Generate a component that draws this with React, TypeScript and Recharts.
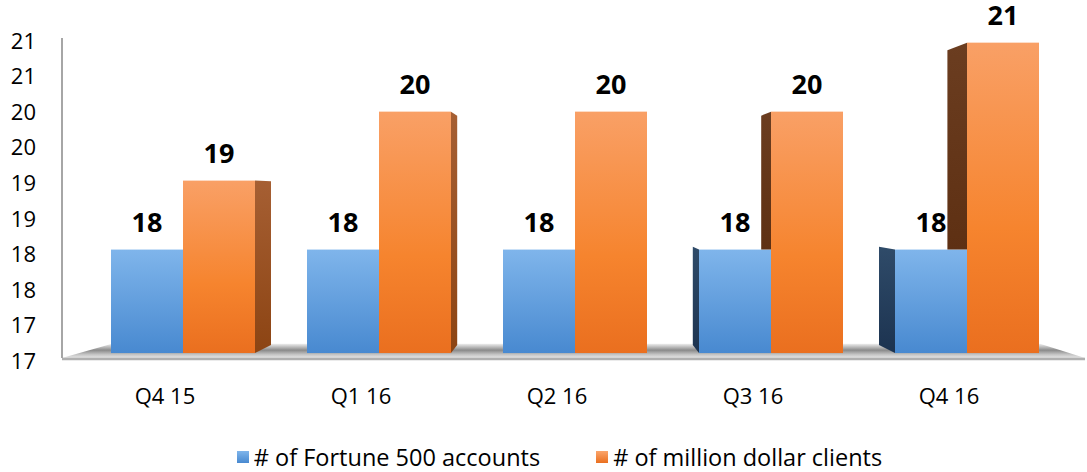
import { BarChart, Bar, XAxis, YAxis, Legend, ReferenceArea, LabelList } from "recharts";

const quarters = ["Q4 15", "Q1 16", "Q2 16", "Q3 16", "Q4 16"];
const fortune500 = [18, 18, 18, 18, 18];
const millionClients = [19, 20, 20, 20, 21];
const yTicks = [16.5, 17, 17.5, 18, 18.5, 19, 19.5, 20, 20.5, 21];

const data = quarters.map((q, i) => ({
  quarter: q,
  fortune: fortune500[i],
  million: millionClients[i],
}));

const FONT = "'Open Sans', sans-serif";
const W = 1087;
const H = 472;
const MARGIN = { top: 38, right: 2, left: 12, bottom: 1 };
const Y_AXIS_W = 50;
const PAD_L = 23;
const PAD_R = 20;
const Y_MIN = 16.5;

// fake perspective: bars sit a little behind the axis plane
const VP_X = (MARGIN.left + Y_AXIS_W + PAD_L + W - MARGIN.right - PAD_R) / 2;
const VP_Y = 193;
const DEPTH = 0.97;
const SIDE = 0.05;

const toDepth = (y: number) => VP_Y + (y - VP_Y) * DEPTH;
const backX = (x: number) => x + (VP_X - x) * SIDE;
const backY = (y: number) => y + (VP_Y - y) * SIDE;

const pts = (p: number[][]) => p.map((a) => a.join(",")).join(" ");

function makeBar(key: "fortune" | "million") {
  return (props: any) => {
    const { x, y, width, height, payload } = props;
    const top = toDepth(y);
    const bottom = toDepth(y + height);
    const xl = x;
    const xr = x + width;
    const faces: any[] = [];

    if (key === "million" && xr < VP_X) {
      faces.push(
        <polygon
          key="r"
          points={pts([[xr, top], [backX(xr), backY(top)], [backX(xr), backY(bottom)], [xr, bottom]])}
          fill="url(#sideMillionR)"
        />
      );
    }
    if (xl > VP_X) {
      let low = bottom;
      if (key === "million") {
        // the blue bar in front hides the lower part
        const unit = height / (payload.million - Y_MIN);
        low = toDepth(y + height - (payload.fortune - Y_MIN) * unit);
      }
      faces.push(
        <polygon
          key="l"
          points={pts([[xl, top], [backX(xl), backY(top)], [backX(xl), key === "million" ? low : backY(low)], [xl, low]])}
          fill={key === "million" ? "url(#sideMillionL)" : "url(#sideFortuneL)"}
        />
      );
    }

    return (
      <g>
        {faces}
        <rect
          x={xl}
          y={top}
          width={width}
          height={bottom - top}
          fill={key === "million" ? "url(#frontMillion)" : "url(#frontFortune)"}
        />
      </g>
    );
  };
}

const renderLabel = (props: any) => {
  const { x, y, width, value } = props;
  return (
    <text
      x={x + width / 2}
      y={toDepth(y) - 18}
      textAnchor="middle"
      fontFamily={FONT}
      fontSize={27}
      fontWeight="bold"
      fill="#000"
    >
      {value}
    </text>
  );
};

const Floor = (props: any) => {
  const { y, height } = props;
  const left = MARGIN.left + Y_AXIS_W;
  const right = W - MARGIN.right;
  const fy = y + height;
  return (
    <g>
      <polygon
        points={pts([[left, fy], [right, fy], [right - 45, y], [left + 50, y]])}
        fill="url(#floorGrad)"
      />
      <line x1={left} y1={fy + 1} x2={right} y2={fy + 1} stroke="#b0b0b0" strokeWidth={2.5} />
    </g>
  );
};

const legendItems = [
  { label: "# of Fortune 500 accounts", color: "linear-gradient(#7fb5eb, #4889d0)" },
  { label: "# of million dollar clients", color: "linear-gradient(#fba56c, #ea6f1f)" },
];

const renderLegend = () => (
  <div
    style={{
      display: "flex",
      justifyContent: "center",
      gap: 56,
      paddingLeft: 22,
      fontFamily: FONT,
      fontSize: 23.5,
      color: "#000",
    }}
  >
    {legendItems.map((it) => (
      <div key={it.label} style={{ display: "flex", alignItems: "center" }}>
        <span style={{ width: 12, height: 12, background: it.color, marginRight: 5, display: "inline-block" }} />
        {it.label}
      </div>
    ))}
  </div>
);

export default function App() {
  return (
    <div style={{ position: "relative", width: W, height: H }}>
      <style>{"body{margin:0}"}</style>
      <svg style={{ position: "absolute", width: 0, height: 0 }}>
        <defs>
          <linearGradient id="frontFortune" x1="0" y1="0" x2="0" y2="1">
            <stop offset="0%" stopColor="#7fb5eb" />
            <stop offset="100%" stopColor="#4889d0" />
          </linearGradient>
          <linearGradient id="frontMillion" x1="0" y1="0" x2="0" y2="1">
            <stop offset="0%" stopColor="#f9a066" />
            <stop offset="60%" stopColor="#f6842e" />
            <stop offset="100%" stopColor="#ea6f1f" />
          </linearGradient>
          <linearGradient id="sideMillionR" x1="0" y1="0" x2="0" y2="1">
            <stop offset="0%" stopColor="#a65f33" />
            <stop offset="100%" stopColor="#8c4413" />
          </linearGradient>
          <linearGradient id="sideMillionL" x1="0" y1="0" x2="0" y2="1">
            <stop offset="0%" stopColor="#6b3d20" />
            <stop offset="100%" stopColor="#5e3013" />
          </linearGradient>
          <linearGradient id="sideFortuneL" x1="0" y1="0" x2="0" y2="1">
            <stop offset="0%" stopColor="#2f4b69" />
            <stop offset="100%" stopColor="#1c3350" />
          </linearGradient>
          <linearGradient id="floorGrad" x1="0" y1="0" x2="0" y2="1">
            <stop offset="0%" stopColor="#eeeeee" />
            <stop offset="45%" stopColor="#8a8a8a" />
            <stop offset="75%" stopColor="#c4c4c4" />
            <stop offset="100%" stopColor="#e6e6e6" />
          </linearGradient>
        </defs>
      </svg>
      <BarChart width={W} height={H} data={data} margin={MARGIN} barGap={0} barSize={72}>
        <XAxis
          dataKey="quarter"
          padding={{ left: PAD_L, right: PAD_R }}
          axisLine={false}
          tickLine={false}
          tickSize={0}
          tickMargin={30}
          height={83}
          tick={{ fontFamily: FONT, fontSize: 22, fill: "#000", dx: -18 }}
        />
        <YAxis
          type="number"
          domain={[16.5, 21]}
          ticks={yTicks}
          tickFormatter={(v: number) => String(Math.round(v))}
          width={Y_AXIS_W}
          axisLine={{ stroke: "#a6a6a6", strokeWidth: 2 }}
          tickLine={false}
          tickSize={0}
          tickMargin={26}
          tick={{ fontFamily: FONT, fontSize: 22, fill: "#000", dy: 3 }}
        />
        <ReferenceArea y1={16.5} y2={16.7} shape={Floor} />
        <Legend verticalAlign="bottom" height={30} content={renderLegend} />
        <Bar dataKey="fortune" name="# of Fortune 500 accounts" fill="#5b9bd5" shape={makeBar("fortune")} isAnimationActive={false}>
          <LabelList dataKey="fortune" content={renderLabel} />
        </Bar>
        <Bar dataKey="million" name="# of million dollar clients" fill="#ed7d31" shape={makeBar("million")} isAnimationActive={false}>
          <LabelList dataKey="million" content={renderLabel} />
        </Bar>
      </BarChart>
    </div>
  );
}
